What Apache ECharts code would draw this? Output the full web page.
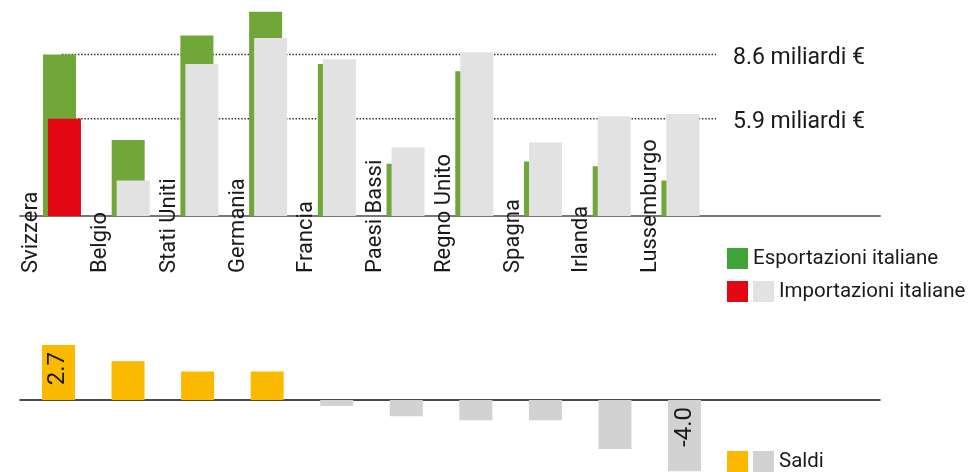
<!DOCTYPE html>
<html>
<head>
<meta charset="utf-8">
<script src="https://cdn.jsdelivr.net/npm/echarts@6/dist/echarts.min.js"></script>
<style>
html,body{margin:0;padding:0;background:#fff;}
#chart{width:973px;height:472px;}
</style>
</head>
<body>
<div id="chart"></div>
<script>
const categories = ['Svizzera', 'Belgio', 'Stati Uniti', 'Germania', 'Francia', 'Paesi Bassi', 'Regno Unito', 'Spagna', 'Irlanda', 'Lussemburgo'];
const exportsIT = [8.6, 5.0, 9.4, 10.4, 8.2, 4.0, 7.9, 4.1, 3.9, 3.3];
const importsIT = [5.9, 3.3, 8.2, 9.3, 8.4, 4.7, 8.7, 4.9, 6.0, 6.1];
const saldi = [2.7, 1.9, 1.4, 1.4, -0.3, -0.8, -1.0, -1.0, -2.4, -4.0];
const refValues = [8.6, 5.9];
const refLabels = ['8.6 miliardi €', '5.9 miliardi €'];
const highlightedImport = 'Svizzera';
const labelledSaldi = ['Svizzera', 'Lussemburgo'];

const GREEN = '#71A638', GREEN_LEG = '#41A43B', RED = '#E30613', LIGHT = '#E2E2E2';
const YELLOW = '#FBB900', GREY = '#D2D2D2', TXT = '#1a1a1a';
const FONT = 'Roboto, "Open Sans", sans-serif';

const chart = echarts.init(document.getElementById('chart'), null, {renderer: 'canvas'});

const importData = importsIT.map((v, i) => categories[i] === highlightedImport ? {value: v, itemStyle: {color: RED}} : v);
const saldiData = saldi.map((v, i) => ({
  value: v,
  itemStyle: v >= 0 ? {color: YELLOW} : undefined,
  label: {show: labelledSaldi.indexOf(categories[i]) >= 0}
}));

const refSeries = refValues.map((v, i) => ({
  type: 'line', name: 'ref' + i,
  xAxisIndex: 1, yAxisIndex: 0,
  data: [[0.5, v], [10.1, v]],
  symbol: 'none', clip: false, z: 1, silent: true,
  lineStyle: {color: '#333', width: 1.5, type: [1.5, 1.7]},
  endLabel: {show: true, formatter: refLabels[i], distance: 11, offset: [6, 4], fontSize: 23, fontFamily: FONT, color: TXT}
}));

const legendText = {fontSize: 20.5, fontFamily: FONT, color: TXT};
const option = {
  animation: false,
  backgroundColor: '#fff',
  grid: [
    {left: 27.6, top: 0, width: 687.2, height: 216},
    {left: 23.7, top: 328.7, width: 695.6, height: 142.6},
    {left: 20, top: 0, width: 860, height: 216},
    {left: 20, top: 328.7, width: 860, height: 71.3}
  ],
  xAxis: [
    {gridIndex: 0, type: 'category', data: categories,
     axisLine: {show: false}, axisTick: {show: false}, splitLine: {show: false},
     axisLabel: {interval: 0, rotate: 90, align: 'left', verticalAlign: 'bottom', margin: 57,
       padding: [0, 0, 17, 0], lineHeight: 26, fontSize: 22,
       fontFamily: FONT, color: TXT}},
    {gridIndex: 0, type: 'value', min: 0, max: 10, show: false},
    {gridIndex: 1, type: 'category', data: categories, show: false},
    {gridIndex: 2, type: 'value', min: 0, max: 1,
     axisLine: {show: true, lineStyle: {color: '#777', width: 2}},
     axisTick: {show: false}, axisLabel: {show: false}, splitLine: {show: false}},
    {gridIndex: 3, type: 'value', min: 0, max: 1,
     axisLine: {show: true, lineStyle: {color: '#111', width: 1.5}},
     axisTick: {show: false}, axisLabel: {show: false}, splitLine: {show: false}}
  ],
  yAxis: [
    {gridIndex: 0, type: 'value', min: 1.8, max: 10.9, show: false},
    {gridIndex: 1, type: 'value', min: -3.5, max: 3.5, show: false},
    {gridIndex: 2, type: 'value', min: 0, max: 1, show: false},
    {gridIndex: 3, type: 'value', min: 0, max: 1, show: false}
  ],
  legend: [
    {left: 727, top: 248, padding: 0, itemWidth: 21, itemHeight: 21, icon: 'rect', selectedMode: false,
     data: [{name: 'Esportazioni italiane', itemStyle: {color: GREEN_LEG}}], textStyle: legendText},
    {left: 753, top: 281, padding: 0, itemWidth: 21, itemHeight: 21, icon: 'rect', selectedMode: false,
     data: ['Importazioni italiane'], textStyle: legendText},
    {left: 753, top: 451, padding: 0, itemWidth: 21, itemHeight: 21, icon: 'rect', selectedMode: false,
     data: ['Saldi'], textStyle: legendText}
  ],
  graphic: [
    {type: 'rect', left: 727, top: 281, shape: {width: 21, height: 21}, style: {fill: RED}},
    {type: 'rect', left: 727, top: 451, shape: {width: 21, height: 21}, style: {fill: YELLOW}}
  ],
  series: [
    {type: 'bar', name: 'Esportazioni italiane', xAxisIndex: 0, yAxisIndex: 0,
     data: exportsIT, barWidth: 33, barGap: '-84.85%', clip: true, z: 2,
     itemStyle: {color: GREEN}},
    {type: 'bar', name: 'Importazioni italiane', xAxisIndex: 0, yAxisIndex: 0,
     data: importData, barWidth: 33, barGap: '-84.85%', clip: true, z: 2,
     itemStyle: {color: LIGHT}},
    ...refSeries,
    {type: 'bar', name: 'Saldi', xAxisIndex: 2, yAxisIndex: 1,
     data: saldiData, barWidth: 33, clip: true, z: 2,
     itemStyle: {color: GREY},
     label: {show: false, position: 'insideTop', rotate: 90, align: 'right', verticalAlign: 'middle',
       distance: 7, fontSize: 24, fontFamily: FONT, color: TXT,
       formatter: p => p.value.toFixed(1)}}
  ]
};
chart.setOption(option);
</script>
</body>
</html>
